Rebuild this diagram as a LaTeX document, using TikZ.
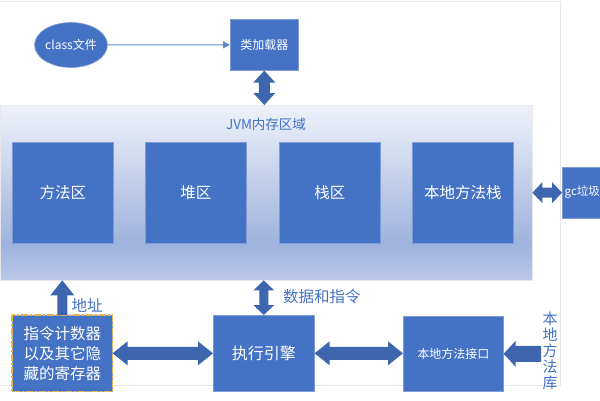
\documentclass[tikz,border=0pt]{standalone}
\usepackage{fontspec}
\setmainfont{Noto Sans CJK SC}
\usetikzlibrary{calc,shapes.geometric,arrows.meta}
\definecolor{boxblue}{HTML}{4472C4}
\definecolor{boxedge}{HTML}{7F9BD3}
\definecolor{arrowblue}{HTML}{3E66AF}
\definecolor{txtblue}{HTML}{4472C4}
\definecolor{framegray}{HTML}{E8E8EC}
\definecolor{jvmtop}{HTML}{EEF1F9}
\definecolor{jvmdark}{HTML}{9DB2DD}
\definecolor{jvmbot}{HTML}{BCCAE8}
\definecolor{dashgold}{HTML}{E2B84C}
\newcommand\dblh[5]{\fill[arrowblue] let \p1=#1, \p2=#2 in
  (\x1,\y1) -- (\x1+#5pt,\y1+#4pt) -- (\x1+#5pt,\y1+#3pt) -- (\x2-#5pt,\y1+#3pt) -- (\x2-#5pt,\y1+#4pt) -- (\x2,\y1)
  -- (\x2-#5pt,\y1-#4pt) -- (\x2-#5pt,\y1-#3pt) -- (\x1+#5pt,\y1-#3pt) -- (\x1+#5pt,\y1-#4pt) -- cycle;}
\newcommand\dblv[5]{\fill[arrowblue] let \p1=#1, \p2=#2 in
  (\x1,\y1) -- (\x1+#4pt,\y1-#5pt) -- (\x1+#3pt,\y1-#5pt) -- (\x1+#3pt,\y2+#5pt) -- (\x1+#4pt,\y2+#5pt) -- (\x1,\y2)
  -- (\x1-#4pt,\y2+#5pt) -- (\x1-#3pt,\y2+#5pt) -- (\x1-#3pt,\y1-#5pt) -- (\x1-#4pt,\y1-#5pt) -- cycle;}
\newcommand\sglup[5]{\fill[arrowblue] let \p1=#1, \p2=#2 in
  (\x1-#3pt,\y1) -- (\x1-#3pt,\y2-#5pt) -- (\x1-#4pt,\y2-#5pt) -- (\x1,\y2) -- (\x1+#4pt,\y2-#5pt) -- (\x1+#3pt,\y2-#5pt) -- (\x1+#3pt,\y1) -- cycle;}
\newcommand\sglleft[5]{\fill[arrowblue] let \p1=#1, \p2=#2 in
  (\x1,\y2+#3pt) -- (\x2+#5pt,\y2+#3pt) -- (\x2+#5pt,\y2+#4pt) -- (\x2,\y2) -- (\x2+#5pt,\y2-#4pt) -- (\x2+#5pt,\y2-#3pt) -- (\x1,\y2-#3pt) -- cycle;}
\tikzset{
  bluebox/.style={draw=boxedge, line width=0.6pt, fill=boxblue, text=white, inner sep=0pt, anchor=north west, align=center},
  lbl/.style={text=txtblue, inner sep=0pt},
  f12/.style={font=\fontsize{12}{14}\selectfont},
  f15/.style={font=\fontsize{15.5}{20}\selectfont},
}
\begin{document}
\begin{tikzpicture}[x=1pt,y=-1pt]
\useasboundingbox (0,0) rectangle (600,400);
\clip (0,0) rectangle (600,400);
\draw[framegray, line width=0.8pt] (0,1) -- (560,1) -- (560,385) -- (0,385);
% JVM region
\node[minimum width=532, minimum height=175, inner sep=0pt, anchor=north west] (jvm) at (0,105) {};
\begin{scope}
\clip (jvm.north west) rectangle (jvm.south east);
\foreach \i in {0,...,55} {
  \pgfmathtruncatemacro\pc{\i/55*100}
  \fill[jvmdark!\pc!jvmtop] (0,105+\i*2.51) rectangle (532,105+\i*2.51+2.7);
}
\foreach \i in {0,...,15} {
  \pgfmathtruncatemacro\pc{\i/15*100}
  \fill[jvmbot!\pc!jvmdark] (0,243+\i*2.5) rectangle (532,243+\i*2.5+2.7);
}
\end{scope}
\draw[framegray, line width=0.6pt] (jvm.north west) rectangle (jvm.south east);
\node[lbl, font=\fontsize{13.5}{16}\selectfont] (jvmt) at (266,124) {JVM内存区域};
% top
\node[draw=boxedge, line width=0.6pt, fill=boxblue, text=white, ellipse, minimum width=68, minimum height=45, inner sep=0pt, f12] (cls) at (71,45) {class文件};
\node[bluebox, f12, minimum width=68, minimum height=51] (loader) at (230,19) {类加载器};
\draw[draw=boxblue!85!white, line width=1pt, -{Triangle[length=7pt,width=7pt]}] (cls) -- (loader);
% memory boxes
\node[bluebox, f15, minimum width=101, minimum height=101] (ff) at (12,142) {方法区};
\node[bluebox, f15, minimum width=101, minimum height=101] (heap) at (145,142) {堆区};
\node[bluebox, f15, minimum width=101, minimum height=101] (stack) at (279,142) {栈区};
\node[bluebox, f15, minimum width=101, minimum height=101] (nst) at (412,142) {本地方法栈};
\node[bluebox, minimum width=80, minimum height=51] (gc) at (562,167) {};
\node[text=white, font=\fontsize{11.5}{14}\selectfont, anchor=west, inner sep=0pt] (gct) at (564.5,192.5) {gc垃圾};
% bottom
\node[bluebox, f15, minimum width=100, minimum height=76] (pc) at (12,315) {指令计数器\\以及其它隐\\藏的寄存器};
\draw[dashgold, line width=1.6pt, dash pattern=on 7pt off 2pt on 2pt off 2pt] (pc.north west) rectangle (pc.south east);
\node[bluebox, font=\fontsize{16}{20}\selectfont, minimum width=101, minimum height=76] (exec) at (213,315) {执行引擎};
\node[bluebox, f12, minimum width=100, minimum height=75] (nif) at (403,316) {本地方法接口};
\node[lbl, f15] (addr) at (87,305) {地址};
\node[lbl, f15, anchor=west] (data) at (283,297) {数据和指令};
\node[lbl, font=\fontsize{15}{16}\selectfont, align=center] (lib) at (550,351) {本\\地\\方\\法\\库};
\coordinate (libtail) at (541,353);
% block arrows
\dblv{(loader.south)}{(loader.south |- jvm.north)}{5.5}{11}{12}
\dblh{(jvm.east)}{(gc.west)}{5}{10.5}{10}
\sglup{(pc.north)}{(pc.north |- jvm.south)}{5}{12}{15}
\dblv{(exec.north |- jvm.south)}{(exec.north)}{4.5}{10.5}{10}
\dblh{(pc.east)}{(exec.west)}{6.5}{12}{15}
\dblh{(exec.east)}{(nif.west)}{6.5}{12}{15}
\sglleft{(libtail)}{(nif.east)}{8}{13}{12}
\end{tikzpicture}
\end{document}
